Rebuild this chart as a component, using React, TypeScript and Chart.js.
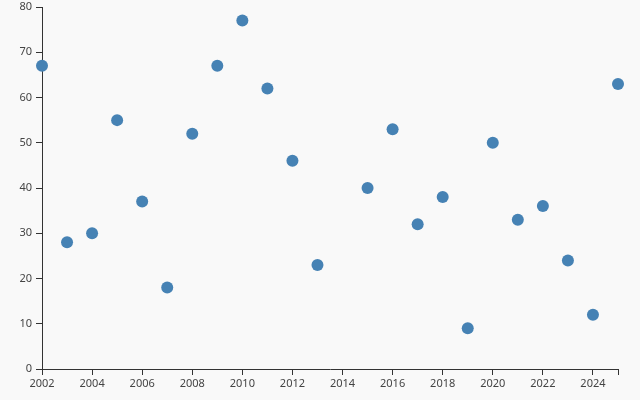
import React, { useEffect, useRef } from "react";
import { Chart, registerables } from "chart.js";

Chart.register(...registerables);

const years = [2002, 2003, 2004, 2005, 2006, 2007, 2008, 2009, 2010, 2011, 2012, 2013, 2015, 2016, 2017, 2018, 2019, 2020, 2021, 2022, 2023, 2024, 2025];
const values = [67, 28, 30, 55, 37, 18, 52, 67, 77, 62, 46, 23, 40, 53, 32, 38, 9, 50, 33, 36, 24, 12, 63];
const xTicks = [2002, 2004, 2006, 2008, 2010, 2012, 2014, 2016, 2018, 2020, 2022, 2024, 2025];
const yTicks = [0, 10, 20, 30, 40, 50, 60, 70, 80];

const AXIS = "#333333";
const TEXT = "#444444";
const BG = "#f9f9f9";

const bgPlugin = {
  id: "bg",
  beforeDraw(chart: any) {
    const ctx = chart.ctx;
    ctx.save();
    ctx.fillStyle = BG;
    ctx.fillRect(0, 0, chart.width, chart.height);
    ctx.restore();
  },
};

export default function App() {
  const ref = useRef<HTMLCanvasElement>(null);
  useEffect(() => {
    document.body.style.margin = "0";
    const chart = new Chart(ref.current!, {
      type: "scatter",
      data: {
        datasets: [
          {
            data: years.map((y, i) => ({ x: y, y: values[i] })),
            backgroundColor: "#4682b4",
            borderColor: "#4682b4",
            pointRadius: 6,
            pointHoverRadius: 6,
            borderWidth: 0,
            clip: false as any,
          },
        ],
      },
      options: {
        animation: false,
        responsive: false,
        layout: { padding: { top: 7, right: 22, left: 0, bottom: 0 } },
        plugins: { legend: { display: false }, tooltip: { enabled: false } },
        scales: {
          x: {
            type: "linear",
            min: 2002,
            max: 2025,
            afterBuildTicks(scale: any) {
              scale.ticks = xTicks.map((v) => ({ value: v }));
            },
            afterFit(scale: any) {
              scale.height = 31;
              scale.paddingLeft = 0;
              scale.paddingRight = 0;
            },
            ticks: {
              autoSkip: false,
              maxRotation: 0,
              minRotation: 0,
              padding: 2,
              color: TEXT,
              font: { family: "Noto Sans", size: 11 },
              callback: (v: any) => (v === 2025 ? "" : String(v)),
            },
            grid: { drawOnChartArea: false, tickLength: 6, color: AXIS, tickColor: AXIS },
            border: { display: true, color: AXIS, width: 1 },
          },
          y: {
            type: "linear",
            min: 0,
            max: 80,
            afterBuildTicks(scale: any) {
              scale.ticks = yTicks.map((v) => ({ value: v }));
            },
            afterFit(scale: any) {
              scale.width = 42;
              scale.paddingTop = 0;
              scale.paddingBottom = 0;
            },
            ticks: {
              padding: 4,
              color: TEXT,
              font: { family: "Noto Sans", size: 11 },
            },
            grid: { drawOnChartArea: false, tickLength: 6, color: AXIS, tickColor: AXIS },
            border: { display: true, color: AXIS, width: 1 },
          },
        },
      },
      plugins: [bgPlugin],
    });
    return () => chart.destroy();
  }, []);
  return (
    <div style={{ width: 640, height: 400 }}>
      <canvas ref={ref} width={640} height={400} style={{ display: "block" }} />
    </div>
  );
}
